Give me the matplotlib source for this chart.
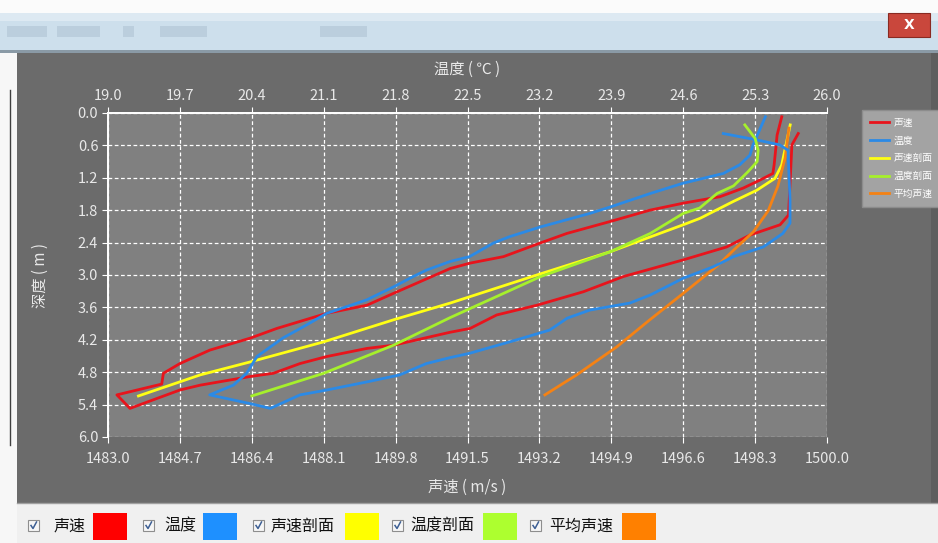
import matplotlib.pyplot as plt
from matplotlib.patches import Rectangle
from matplotlib.lines import Line2D

plt.rcParams['font.family'] = ['Noto Sans CJK SC', 'DejaVu Sans']

# 声速 (m/s) 与 深度 (m)
sv_speed = [1498.93, 1498.82, 1498.79, 1498.75, 1498.72, 1498.42, 1498.02, 1497.47,
            1496.60, 1495.81, 1494.87, 1493.85, 1493.21, 1492.35, 1491.56, 1491.09,
            1489.75, 1489.12, 1488.17, 1486.99, 1486.36, 1485.41, 1484.70, 1484.31,
            1484.27, 1483.21, 1483.52, 1484.70, 1485.18, 1486.36, 1486.91, 1487.54,
            1488.17, 1489.12, 1489.75, 1491.09, 1491.56, 1492.19, 1493.14, 1494.24,
            1495.18, 1496.60, 1497.63, 1498.18, 1498.89, 1499.09, 1499.13, 1499.17, 1499.32]
sv_depth = [0.07, 0.41, 0.65, 0.96, 1.12, 1.24, 1.39, 1.55,
            1.67, 1.80, 2.01, 2.23, 2.41, 2.66, 2.78, 2.88,
            3.34, 3.56, 3.71, 3.99, 4.17, 4.39, 4.64, 4.82,
            5.02, 5.22, 5.47, 5.13, 5.04, 4.88, 4.82, 4.64,
            4.51, 4.36, 4.30, 4.06, 3.99, 3.74, 3.56, 3.31,
            3.03, 2.72, 2.48, 2.26, 2.07, 1.89, 1.24, 0.59, 0.38]

# 温度 (℃) 与 深度 (m)
temp_val = [25.40, 25.28, 25.25, 25.15, 24.99, 24.73, 24.60, 24.28, 23.89, 23.69,
            23.21, 22.91, 22.75, 22.52, 22.33, 22.10, 21.97, 21.78, 21.52, 21.13,
            20.90, 20.70, 20.45, 20.35, 20.22, 19.99, 20.38, 20.58, 20.87, 21.13,
            21.52, 21.84, 22.10, 22.33, 22.52, 22.98, 23.30, 23.47, 23.69, 24.08,
            24.28, 24.60, 24.89, 25.09, 25.38, 25.57, 25.64, 25.64, 25.62, 25.54,
            25.32, 24.99]
temp_depth = [0.07, 0.59, 0.78, 0.96, 1.12, 1.24, 1.30, 1.49, 1.74, 1.86,
              2.11, 2.29, 2.41, 2.66, 2.75, 2.91, 3.03, 3.22, 3.46, 3.71,
              3.96, 4.17, 4.51, 4.82, 5.04, 5.22, 5.38, 5.47, 5.22, 5.13,
              4.98, 4.85, 4.64, 4.53, 4.45, 4.20, 4.02, 3.80, 3.65, 3.52,
              3.37, 3.06, 2.85, 2.66, 2.48, 2.23, 2.04, 1.61, 0.69, 0.59,
              0.50, 0.38]

# 声速剖面
svp_speed = [1483.72, 1485.18, 1486.36, 1488.09, 1489.75, 1491.09, 1493.14, 1494.87,
             1496.60, 1497.00, 1497.78, 1498.34, 1498.77, 1498.93, 1499.03, 1499.13]
svp_depth = [5.24, 4.85, 4.61, 4.24, 3.83, 3.52, 3.00, 2.57,
             2.07, 1.95, 1.64, 1.43, 1.21, 0.96, 0.59, 0.22]

# 温度剖面
tp_val = [20.40, 21.10, 21.78, 22.33, 23.21, 23.89, 24.28, 24.60, 24.76,
          24.93, 25.09, 25.23, 25.32, 25.33, 25.30, 25.20]
tp_depth = [5.24, 4.82, 4.30, 3.79, 3.03, 2.57, 2.23, 1.86, 1.76,
            1.49, 1.35, 1.09, 0.90, 0.69, 0.47, 0.22]

# 平均声速
avg_speed = [1493.33, 1494.08, 1495.03, 1495.81, 1496.60, 1497.39, 1497.86,
             1498.26, 1498.61, 1498.84, 1499.01, 1499.10]
avg_depth = [5.22, 4.85, 4.33, 3.83, 3.34, 2.84, 2.49,
             2.20, 1.81, 1.35, 0.83, 0.28]

speed_ticks = [1483.0, 1484.7, 1486.4, 1488.1, 1489.8, 1491.5, 1493.2, 1494.9, 1496.6, 1498.3, 1500.0]
temp_ticks = [19.0, 19.7, 20.4, 21.1, 21.8, 22.5, 23.2, 23.9, 24.6, 25.3, 26.0]
depth_ticks = [0.0, 0.6, 1.2, 1.8, 2.4, 3.0, 3.6, 4.2, 4.8, 5.4, 6.0]

names = ['声速', '温度', '声速剖面', '温度剖面', '平均声速']
line_colors = ['#e8141c', '#2b8ae6', '#ffff14', '#a6f02c', '#f58214']
swatch_colors = ['#ff0000', '#1e90ff', '#ffff00', '#adff2f', '#ff8000']

W, H = 938, 543
fig = plt.figure(figsize=(9.38, 5.43), dpi=100, facecolor='#6b6b6b')


def box(x, y, w, h, color, **kw):
    # rectangle in pixel coordinates (origin top-left)
    r = Rectangle((x / W, 1 - (y + h) / H), w / W, h / H, transform=fig.transFigure,
                  facecolor=color, **kw)
    fig.patches.append(r)
    return r


# window chrome
box(0, 0, W, 13, '#fbfbfb', edgecolor='none')
box(0, 13, W, 39, '#cddfec', edgecolor='none')
box(0, 13, W, 8, '#dde9f2', edgecolor='none')
for bx, bw in [(7, 40), (57, 43), (123, 11), (160, 47), (320, 47)]:
    box(bx, 26, bw, 11, '#7f95a8', edgecolor='none', alpha=0.22)
box(0, 50, W, 3, '#8a9aa6', edgecolor='none')
box(888, 13, 42, 24, '#c9473c', edgecolor='#8a2a22', linewidth=0.8)
fig.text(909 / W, 1 - 25 / H, 'X', color='white', fontsize=10, fontweight='bold',
         ha='center', va='center', family='DejaVu Sans')
box(0, 53, 17, H - 53, '#f7f7f7', edgecolor='none')
fig.add_artist(Line2D([10 / W, 10 / W], [1 - 90 / H, 1 - 445 / H], color='#404040',
                      linewidth=1, transform=fig.transFigure))
box(931, 53, 7, 450, '#5e5e5e', edgecolor='none')

# bottom legend panel
box(17, 503, W - 17, 40, '#f0f0f0', edgecolor='none')
fig.add_artist(Line2D([17 / W, 1], [1 - 503 / H, 1 - 503 / H], color='#a0a0a0',
                      linewidth=1, transform=fig.transFigure))
check_x = [28, 143, 253, 392, 530]
label_x = [54, 164, 271, 410, 549]
swatch_x = [93, 203, 345, 483, 622]
for i in range(5):
    cx = check_x[i]
    box(cx, 520, 11, 11, '#f6f6f6', edgecolor='#8e8e8e', linewidth=0.8)
    fig.add_artist(Line2D([(cx + 3) / W, (cx + 5) / W, (cx + 8.5) / W],
                          [1 - 525.5 / H, 1 - 528.5 / H, 1 - 522 / H],
                          color='#3d5f94', linewidth=1.1, transform=fig.transFigure))
    fig.text(label_x[i] / W, 1 - 526 / H, names[i], fontsize=11.5, color='#111111',
             ha='left', va='center')
    box(swatch_x[i], 513, 34, 27, swatch_colors[i], edgecolor='none')

# chart
ax = fig.add_axes([108 / W, 1 - 437 / H, 719 / W, 324 / H])
ax.set_facecolor('#808080')
ax.set_xlim(1483, 1500)
ax.set_ylim(6, 0)
ax2 = ax.twiny()
ax2.set_xlim(19, 26)

ax.plot(sv_speed, sv_depth, color=line_colors[0], linewidth=2, zorder=3)
ax.plot(svp_speed, svp_depth, color=line_colors[2], linewidth=2, zorder=3)
ax.plot(avg_speed, avg_depth, color=line_colors[4], linewidth=2, zorder=3)
ax2.plot(temp_val, temp_depth, color=line_colors[1], linewidth=2)
ax2.plot(tp_val, tp_depth, color=line_colors[3], linewidth=2)

ax.set_xticks(speed_ticks)
ax.set_xticklabels([f'{v:.1f}' for v in speed_ticks])
ax.set_yticks(depth_ticks)
ax.set_yticklabels([f'{v:.1f}' for v in depth_ticks])
ax2.set_xticks(temp_ticks)
ax2.set_xticklabels([f'{v:.1f}' for v in temp_ticks])

ax.grid(True, color='white', linestyle=(0, (3, 2)), linewidth=0.9)
ax.set_axisbelow(True)

for a in (ax, ax2):
    for s in ['bottom', 'right']:
        a.spines[s].set_visible(False)
    for s in ['left', 'top']:
        a.spines[s].set_color('white')
        a.spines[s].set_linewidth(1.3)
    a.tick_params(colors='white', labelcolor='#e8e8e8', labelsize=10.5, length=4, pad=3)
ax.tick_params(axis='x', pad=7)

ax.set_xlabel('声速 ( m/s )', color='#e8e8e8', fontsize=11, labelpad=9)
ax.set_ylabel('深度 ( m )', color='#e8e8e8', fontsize=11, labelpad=21)
ax2.set_xlabel('温度 ( ℃ )', color='#e8e8e8', fontsize=11, labelpad=11)

handles = [Line2D([], [], color=c, linewidth=2) for c in line_colors]
leg = fig.legend(handles, names, loc='upper left', bbox_to_anchor=(857 / W, 1 - 105 / H),
                 fontsize=7, handlelength=2.0, labelspacing=0.8, borderpad=0.8,
                 handletextpad=0.5, frameon=True, fancybox=False, labelcolor='white')
leg.get_frame().set_facecolor('#a3a3a3')
leg.get_frame().set_edgecolor('#8c8c8c')
leg.get_frame().set_alpha(1)

fig.savefig('out.png', dpi=100, facecolor=fig.get_facecolor())
